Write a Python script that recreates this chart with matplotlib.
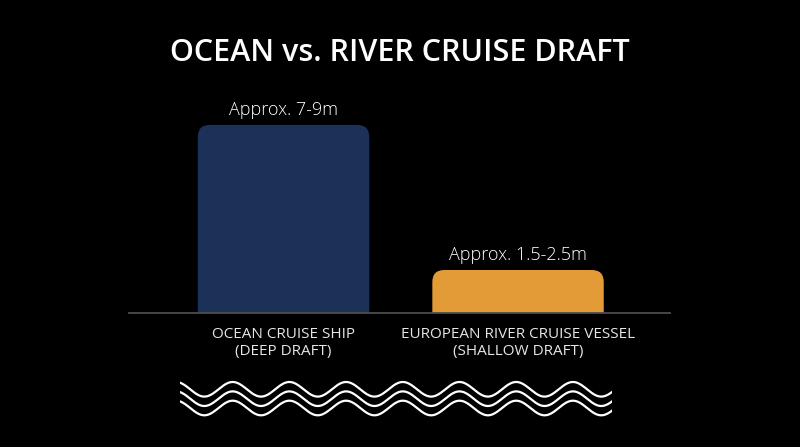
import matplotlib.pyplot as plt
import numpy as np
from matplotlib.patches import FancyBboxPatch

# data
categories = ["OCEAN CRUISE SHIP\n(DEEP DRAFT)", "EUROPEAN RIVER CRUISE VESSEL\n(SHALLOW DRAFT)"]
draft_m = [8.75, 2.0]          # approx. bar heights (m)
value_labels = ["Approx. 7-9m", "Approx. 1.5-2.5m"]
bar_colors = ["#1c3158", "#e29b36"]

FONT = ["Open Sans", "DejaVu Sans"]
BG = "black"

fig = plt.figure(figsize=(8, 4.47), dpi=100, facecolor=BG)
ax = fig.add_axes([0.16125, 0.2998, 0.67625, 0.4765])
ax.set_facecolor(BG)
ax.set_xlim(-0.659, 1.648)
ax.set_ylim(0, 9.91)
ax.axis("off")

# px per data unit, to keep the corner rounding circular
p0 = ax.transData.transform((0, 0))
p1 = ax.transData.transform((1, 1))
aspect = (p1[0] - p0[0]) / (p1[1] - p0[1])
radius = 12 / (p1[0] - p0[0])

width = 0.731
for i, (h, c, lab) in enumerate(zip(draft_m, bar_colors, value_labels)):
    patch = FancyBboxPatch((i - width / 2, -1), width, h + 1,
                           boxstyle=f"round,pad=0,rounding_size={radius}",
                           mutation_aspect=aspect, facecolor=c, edgecolor="none")
    ax.add_patch(patch)
    ax.annotate(lab, (i, h), xytext=(0, 11), textcoords="offset points",
                ha="center", va="center", color="white", fontsize=13,
                family=FONT, fontweight="light")
    ax.annotate(categories[i], (i, 0), xytext=(0, -10), textcoords="offset points",
                ha="center", va="top", color="#e6e6e6", fontsize=11,
                family=FONT, linespacing=1.15, annotation_clip=False)

ax.axhline(0, color="#4d4d4d", linewidth=1.3, clip_on=False)

fig.text(0.5, 0.881, "OCEAN vs. RIVER CRUISE DRAFT", ha="center", va="center",
         color="white", fontsize=22, fontweight="semibold", family=FONT)

# decorative water waves
wax = fig.add_axes([0.225, 0.0604, 0.54, 0.1007])
wax.set_xlim(0, 432)
wax.set_ylim(420, 375)
wax.axis("off")
x = np.linspace(0, 432, 600)
for c in [389.3, 398.7, 408.0]:
    wax.plot(x, c - 7.3 * np.cos(2 * np.pi * (x + 4) / 56.7), color="white", linewidth=1.6)

fig.savefig("out.png", dpi=100, facecolor=BG)
